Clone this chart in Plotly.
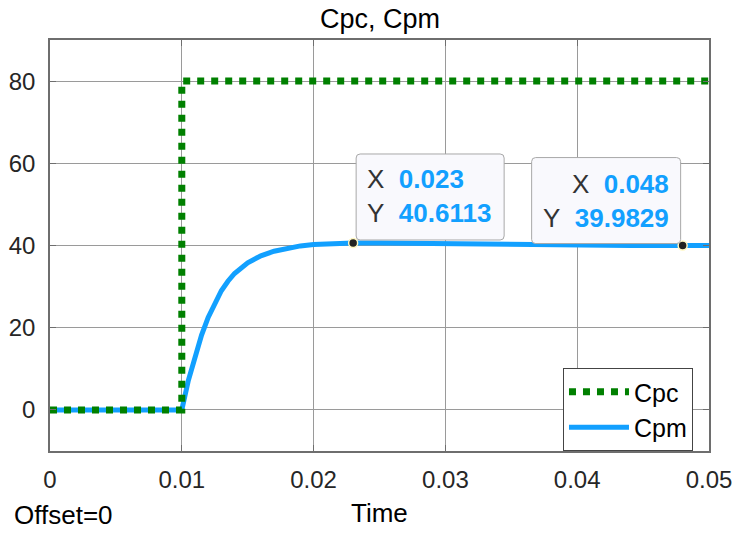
import plotly.graph_objects as go

# ---- data ----
cpc_t = [0.0, 0.01, 0.05]
cpc_v = [0.0, 80.0, 80.0]

cpm_t = [0.0, 0.01, 0.0105, 0.011, 0.0115, 0.012, 0.0125, 0.013, 0.0135, 0.014,
         0.015, 0.016, 0.017, 0.018, 0.019, 0.020, 0.021, 0.022, 0.023, 0.025,
         0.028, 0.032, 0.036, 0.040, 0.044, 0.048, 0.050]
cpm_v = [0.0, 0.0, 7.2, 13.2, 18.2, 22.5, 26.0, 29.0, 31.3, 33.2,
         35.8, 37.5, 38.6, 39.4, 39.9, 40.25, 40.45, 40.56, 40.6113, 40.58,
         40.45, 40.30, 40.17, 40.08, 40.02, 39.9829, 39.97]

tip_t = [0.023, 0.048]
tip_v = [40.6113, 39.9829]

x_ticks = [0, 0.01, 0.02, 0.03, 0.04, 0.05]
x_labels = ["0", "0.01", "0.02", "0.03", "0.04", "0.05"]
y_ticks = [0, 20, 40, 60, 80]

GREEN = "#008000"
BLUE = "#12a0ff"
FONT = "Liberation Sans"
TICKC = "#262626"

fig = go.Figure()
fig.add_trace(go.Scatter(x=cpm_t, y=cpm_v, mode="lines", name="Cpm",
                         line=dict(color=BLUE, width=5), legendrank=2))
fig.add_trace(go.Scatter(x=cpc_t, y=cpc_v, mode="lines", name="Cpc",
                         line=dict(color=GREEN, width=7, dash="dot", shape="hv"),
                         legendrank=1))
fig.add_trace(go.Scatter(x=tip_t, y=tip_v, mode="markers", showlegend=False,
                         marker=dict(color="#222222", size=9,
                                     line=dict(color="#fff7c0", width=1.5))))

# data tips
tips = [
    dict(t=tip_t[0], v=tip_v[0], side="left"),
    dict(t=tip_t[1], v=tip_v[1], side="right"),
]
for tp in tips:
    if tp["side"] == "left":
        x0, x1, y0, y1 = 3, 151, 3, 89
    else:
        x0, x1, y0, y1 = -151, -2, 2, 88
    r = 4
    path = (f"M {x0+r},{y0} L {x1-r},{y0} Q {x1},{y0} {x1},{y0+r} "
            f"L {x1},{y1-r} Q {x1},{y1} {x1-r},{y1} L {x0+r},{y1} "
            f"Q {x0},{y1} {x0},{y1-r} L {x0},{y0+r} Q {x0},{y0} {x0+r},{y0} Z")
    fig.add_shape(type="path", path=path, xref="x", yref="y",
                  xsizemode="pixel", ysizemode="pixel",
                  xanchor=tp["t"], yanchor=tp["v"],
                  fillcolor="#f9f9fd", line=dict(color="#a8a8a8", width=1),
                  layer="above")
    txt = (f"X&nbsp;&nbsp;<b><span style='color:{BLUE}'>{tp['t']:.3f}</span></b><br>"
           f"Y&nbsp;&nbsp;<b><span style='color:{BLUE}'>{tp['v']:.4f}</span></b>")
    if tp["side"] == "left":
        fig.add_annotation(x=tp["t"], y=tp["v"], xref="x", yref="y", text=txt,
                           showarrow=False, xanchor="left", yanchor="middle",
                           align="left", xshift=12, yshift=47,
                           font=dict(family=FONT, size=26, color="#333333"))
    else:
        fig.add_annotation(x=tp["t"], y=tp["v"], xref="x", yref="y", text=txt,
                           showarrow=False, xanchor="right", yanchor="middle",
                           align="right", xshift=-12, yshift=45,
                           font=dict(family=FONT, size=26, color="#333333"))

# title and labels
fig.add_annotation(x=0.5, y=1, xref="paper", yref="paper", text="Cpc, Cpm",
                   showarrow=False, yanchor="middle", yshift=21,
                   font=dict(family=FONT, size=27, color="black"))
fig.add_annotation(x=0.5, y=0, xref="paper", yref="paper", text="Time",
                   showarrow=False, yanchor="middle", yshift=-62,
                   font=dict(family=FONT, size=26, color="black"))
fig.add_annotation(x=0, y=0, xref="paper", yref="paper", text="Offset=0",
                   showarrow=False, xanchor="left", yanchor="middle",
                   xshift=-38, yshift=-64,
                   font=dict(family=FONT, size=26, color="black"))

axis_common = dict(showgrid=True, gridcolor="#9a9a9a", gridwidth=1,
                   showline=True, linecolor="#6e6e6e", linewidth=1.5, mirror="ticks",
                   ticks="inside", ticklen=6, tickcolor="#6e6e6e", zeroline=False,
                   tickfont=dict(family=FONT, size=24, color=TICKC))
fig.update_xaxes(range=[0, 0.05], tickvals=x_ticks, ticktext=x_labels,
                 ticklabelstandoff=6, **axis_common)
fig.update_yaxes(range=[-10, 90], tickvals=y_ticks,
                 ticklabelstandoff=8, **axis_common)

fig.update_layout(
    width=737, height=534,
    margin=dict(l=50, r=28, t=40, b=83, autoexpand=False),
    paper_bgcolor="white", plot_bgcolor="white",
    font=dict(family=FONT),
    hovermode=False,
    legend=dict(x=0.9757, y=0, xanchor="right", yanchor="bottom",
                bgcolor="white", bordercolor="#444444", borderwidth=1,
                font=dict(family=FONT, size=25, color="black"),
                itemwidth=60, tracegroupgap=0),
    showlegend=True,
)

# remove the default page margin so the figure fills the window exactly
fig.write_html("out.html",
               config={"displayModeBar": False},
               post_script="document.body.style.margin='0';"
                           "document.body.style.overflow='hidden';")
